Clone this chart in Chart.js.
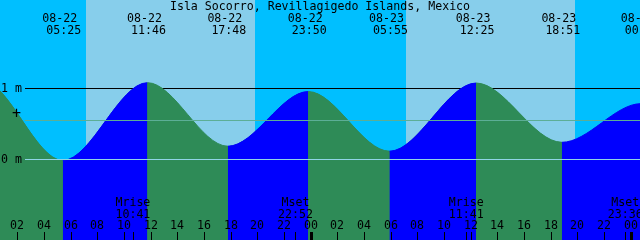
<!DOCTYPE html>
<html>
<head>
<meta charset="utf-8">
<title>Isla Socorro tides</title>
<script src="https://cdn.jsdelivr.net/npm/chart.js@4.4.1/dist/chart.umd.min.js"></script>
<style>
html, body { margin: 0; padding: 0; background: #00BFFF; }
canvas { display: block; }
</style>
</head>
<body>
<canvas id="tideChart" width="640" height="240"></canvas>
<script>
// DATA (hours counted from 08-22 00:00)

const stationName = "Isla Socorro, Revillagigedo Islands, Mexico";

const tideHours  = [-6.8, -0.68, 5.42, 11.77, 17.8, 23.83, 29.92, 36.42, 42.85, 48.8, 55.0];
const tideLevels = [0.15, 1.11, -0.02, 1.075, 0.18, 0.95, 0.11, 1.07, 0.235, 0.78, 0.25];
const tideDates  = ["08-21", "08-21", "08-22", "08-22", "08-22", "08-22", "08-23", "08-23", "08-23", "08-24", "08-24"];
const tideClock  = ["17:12", "23:19", "05:25", "11:46", "17:48", "23:50", "05:55", "12:25", "18:51", "00:48", "07:00"];

const sunriseHours = [7.16, 31.16];
const sunsetHours  = [19.84, 43.84];

const moonHours = [10.68, 22.87, 35.68, 47.6];
const moonNames = ["Mrise", "Mset", "Mrise", "Mset"];
const moonClock = ["10:41", "22:52", "11:41", "23:36"];

const tickHours = [2, 4, 6, 8, 10, 12, 14, 16, 18, 20, 22, 24, 26, 28, 30, 32, 34, 36, 38, 40, 42, 44, 46, 48];

const meterMarks = [0, 1];
const meterLabels = ["0 m", "1 m"];
const meanLevel = 0.55;

// COLORS

const NIGHT = "#00BFFF";
const DAY = "#87CEEB";
const FLOOD = "#0000FF";
const EBB = "#2E8B57";
const FONT = "11.6px 'DejaVu Sans Mono', 'Liberation Mono', monospace";

// BACKGROUND: NIGHT / DAY BANDS + 1 M LINE (BEHIND WATER)

const backdrop = {
    id: "backdrop",
    beforeDatasetsDraw(chart) {
        const { ctx, chartArea: a, scales: { x, y } } = chart;
        ctx.save();
        ctx.fillStyle = NIGHT;
        ctx.fillRect(a.left, a.top, a.width, a.height);
        ctx.fillStyle = DAY;
        sunriseHours.forEach((rise, i) => {
            const x0 = Math.round(x.getPixelForValue(rise));
            const x1 = Math.round(x.getPixelForValue(sunsetHours[i]));
            ctx.fillRect(x0, a.top, x1 - x0, a.height);
        });
        ctx.fillStyle = "#000";
        ctx.fillRect(25, Math.round(y.getPixelForValue(1)), a.right - 25, 1);
        ctx.restore();
    }
};

// OVERLAY: DATUM LINES, LABELS, TICKS

const overlay = {
    id: "overlay",
    afterDatasetsDraw(chart) {
        const { ctx, chartArea: a, scales: { x, y } } = chart;
        ctx.save();

        const yMean = Math.round(y.getPixelForValue(meanLevel));
        const yZero = Math.round(y.getPixelForValue(0));
        ctx.fillStyle = "#5CAE96";
        ctx.fillRect(25, yMean, a.right - 25, 1);
        ctx.fillStyle = "#90D4E6";
        ctx.fillRect(25, yZero, a.right - 25, 1);

        ctx.fillStyle = "#000";
        ctx.font = FONT;
        ctx.textBaseline = "alphabetic";

        // left level labels
        ctx.textAlign = "left";
        meterMarks.forEach((m, i) => {
            ctx.fillText(meterLabels[i], 1, Math.round(y.getPixelForValue(m)) + 4);
        });
        ctx.textAlign = "center";
        ctx.font = "15px 'DejaVu Sans Mono', monospace";
        ctx.fillText("+", 16.5, yMean - 2);
        ctx.font = FONT;

        // title
        ctx.fillText(stationName, 320, 10);

        // tide event labels
        tideHours.forEach((h, i) => {
            const px = x.getPixelForValue(h);
            if (px < 0 || px > a.right + 30) return;
            ctx.fillText(tideDates[i], px - 3, 22);
            ctx.fillText(tideClock[i], px + 1, 34);
        });

        // moon events
        moonHours.forEach((h, i) => {
            const px = x.getPixelForValue(h);
            ctx.fillText(moonNames[i], px, 206);
            ctx.fillText(moonClock[i], px, 218);
            ctx.fillRect(Math.round(px), 232, 1, 8);
        });

        // hour ticks
        tickHours.forEach(h => {
            const px = Math.round(x.getPixelForValue(h));
            const label = String(h % 24).padStart(2, "0");
            ctx.fillText(label, px, 229);
            if (h % 24 === 0) ctx.fillRect(px - 1, 232, 3, 8);
            else ctx.fillRect(px, 232, 1, 8);
        });

        ctx.restore();
    }
};

// CHART

const tidePoints = tideHours.map((h, i) => ({ x: h, y: tideLevels[i] }));

new Chart(document.getElementById("tideChart"), {
    type: "line",
    data: {
        datasets: [{
            // flood / ebb water
            data: tidePoints,
            order: 1,
            cubicInterpolationMode: "monotone",
            fill: "start",
            borderWidth: 1,
            pointRadius: 0,
            segment: {
                backgroundColor: c => c.p1.parsed.y > c.p0.parsed.y ? FLOOD : EBB,
                borderColor: c => c.p1.parsed.y > c.p0.parsed.y ? FLOOD : EBB
            }
        }, {
            // underlay so segment seams do not show the sky
            data: tidePoints,
            order: 2,
            cubicInterpolationMode: "monotone",
            fill: "start",
            backgroundColor: EBB,
            borderColor: "transparent",
            borderWidth: 0,
            pointRadius: 0
        }]
    },
    options: {
        responsive: false,
        devicePixelRatio: 1,
        animation: false,
        events: [],
        layout: { padding: 0 },
        elements: { line: { capBezierPoints: false } },
        plugins: { legend: { display: false }, tooltip: { enabled: false } },
        scales: {
            x: { type: "linear", display: false, bounds: "data", min: 0.7125, max: 48.7125 },
            y: { type: "linear", display: false, bounds: "data", min: -1.1409, max: 2.2394 }
        }
    },
    plugins: [backdrop, overlay]
});
</script>
</body>
</html>
